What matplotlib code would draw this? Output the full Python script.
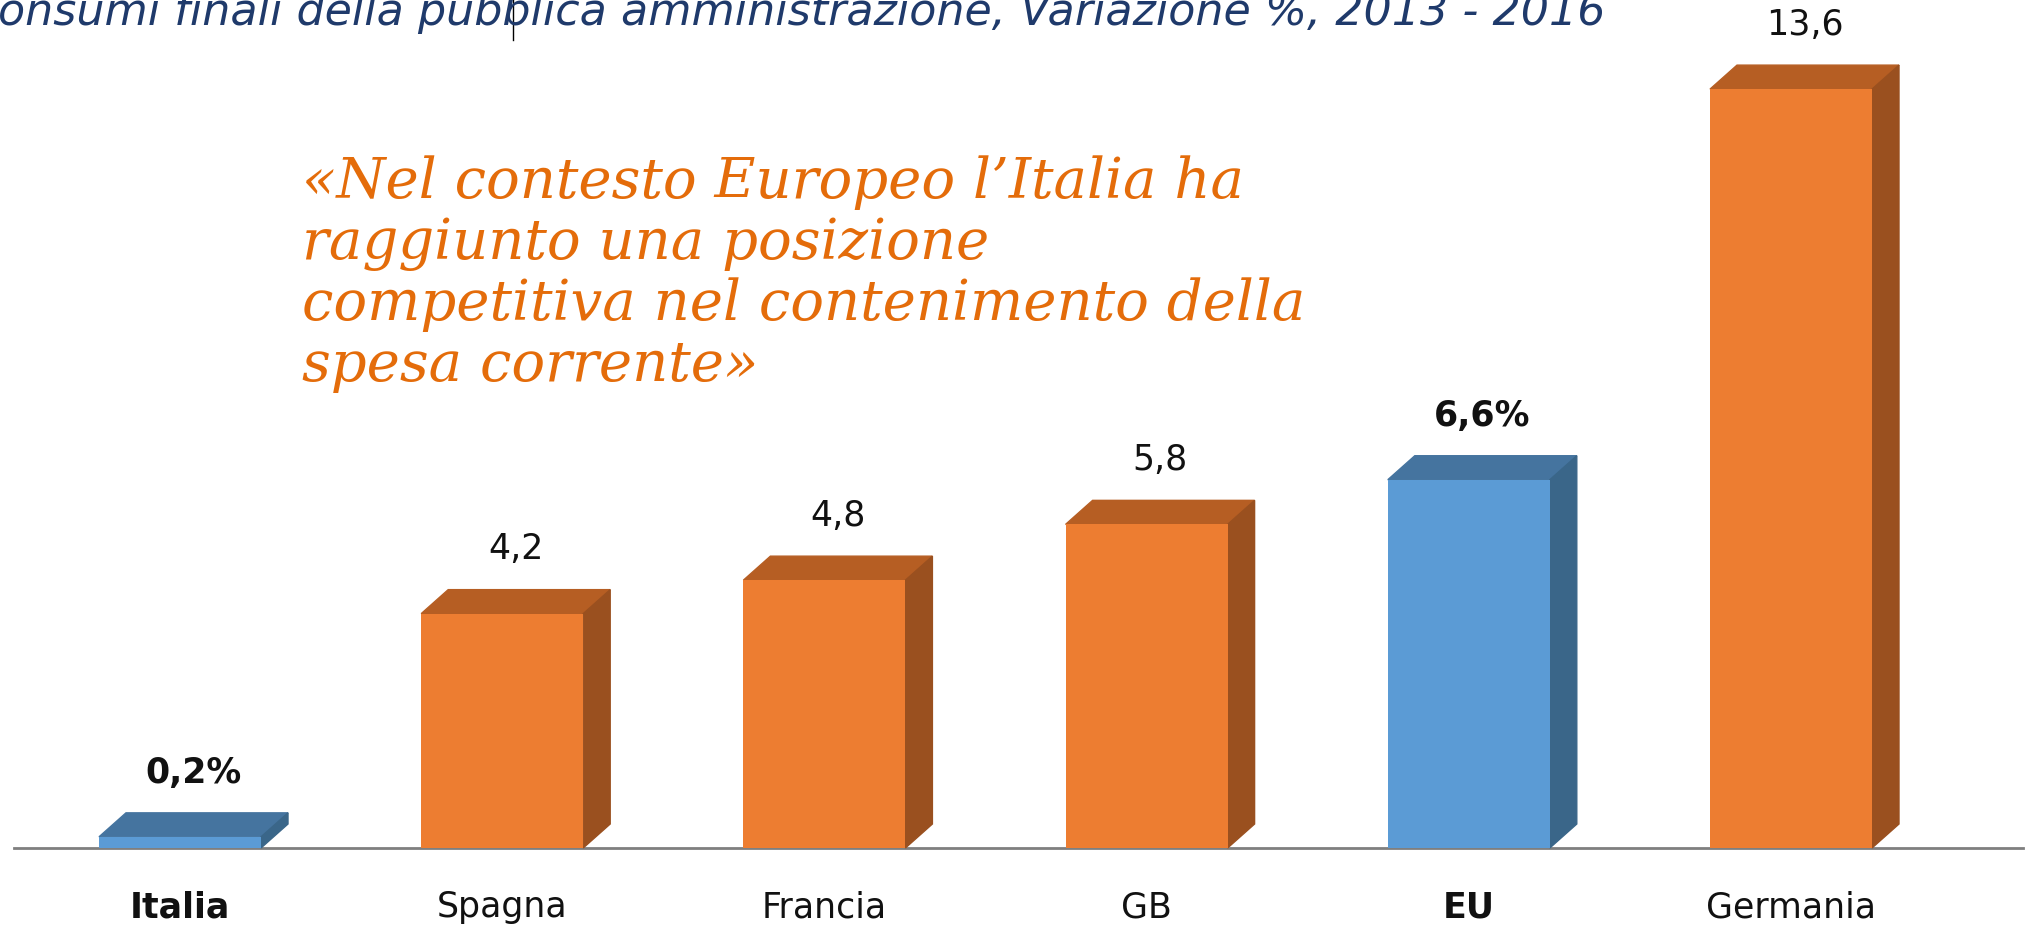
import matplotlib
matplotlib.use("Agg")
import matplotlib.pyplot as plt
from matplotlib.patches import Polygon

# --- data
countries = ["Italia", "Spagna", "Francia", "GB", "EU", "Germania"]
values = [0.2, 4.2, 4.8, 5.8, 6.6, 13.6]
value_labels = ["0,2%", "4,2", "4,8", "5,8", "6,6%", "13,6"]
highlight = [True, False, False, False, True, False]

title = "Consumi finali della pubblica amministrazione, Variazione %, 2013 - 2016"
quote = ["«Nel contesto Europeo l\u2019Italia ha",
         "raggiunto una posizione",
         "competitiva nel contenimento della",
         "spesa corrente»"]

# --- colours
front_c = {False: "#ED7D31", True: "#5B9BD5"}
top_c = {False: "#B65E23", True: "#45749F"}
side_c = {False: "#9A501F", True: "#3A6689"}

W, H = 2031, 930
fig = plt.figure(figsize=(W / 100, H / 100), dpi=100)
ax = fig.add_axes([0, 0, 1, 1])

# pixel geometry of the reference: bar centre x0 + i*step, baseline at y_base
x0, step = 180, 322.2
y_base, ppu = 848, 55.8
ax.set_xlim(-x0 / step, (W - x0) / step)
ax.set_ylim(-(H - y_base) / ppu, y_base / ppu)
ax.axis("off")

bw = 162 / step          # front face width
dx = 27 / step           # depth offset
dy = 24 / ppu

# baseline
ax.plot([(14 - x0) / step, (2023 - x0) / step], [0, 0], color="#7f7f7f", lw=2, zorder=1)

for i, (c, v, lab, hl) in enumerate(zip(countries, values, value_labels, highlight)):
    l, r = i - bw / 2, i + bw / 2
    ax.bar(i, v, width=bw, color=front_c[hl], zorder=3)
    ax.add_patch(Polygon([(l, v), (r, v), (r + dx, v + dy), (l + dx, v + dy)],
                         closed=True, color=top_c[hl], zorder=2))
    ax.add_patch(Polygon([(r, 0), (r + dx, dy), (r + dx, v + dy), (r, v)],
                         closed=True, color=side_c[hl], zorder=2))
    ax.text(i + dx / 2, v + dy + 0.72, lab, ha="center", va="center",
            fontsize=25, fontweight="bold" if hl else "normal", color="#111111")
    ax.text(i, -1.06, c, ha="center", va="center", fontsize=25,
            fontweight="bold" if hl else "normal", color="#111111")

renderer = fig.canvas.get_renderer()

# title, clipped at the left edge like in the reference
t = fig.text(0, 0, title[1:], fontsize=20, style="italic", color="#1F3A6B",
             family="DejaVu Sans")
w = t.get_window_extent(renderer).width
fs = 20 * 1606 / w
t.remove()
fig.text(1606 / W, 1 - 25 / H, title, fontsize=fs, style="italic", color="#1F3A6B",
         family="DejaVu Sans", ha="right", va="baseline")
# stray text cursor
fig.add_artist(plt.Line2D([513 / W, 513 / W], [1, 1 - 40 / H], color="black", lw=1))

# quote
t = fig.text(0, 0, quote[2], fontsize=30, style="italic", family="DejaVu Serif")
w = t.get_window_extent(renderer).width
qfs = 30 * 1002 / w
t.remove()
for line, yb in zip(quote, [198, 259, 320, 381]):
    fig.text(302 / W, 1 - yb / H, line, fontsize=qfs, style="italic",
             family="DejaVu Serif", color="#E46C0A", ha="left", va="baseline")

fig.savefig("out.png", dpi=100)
